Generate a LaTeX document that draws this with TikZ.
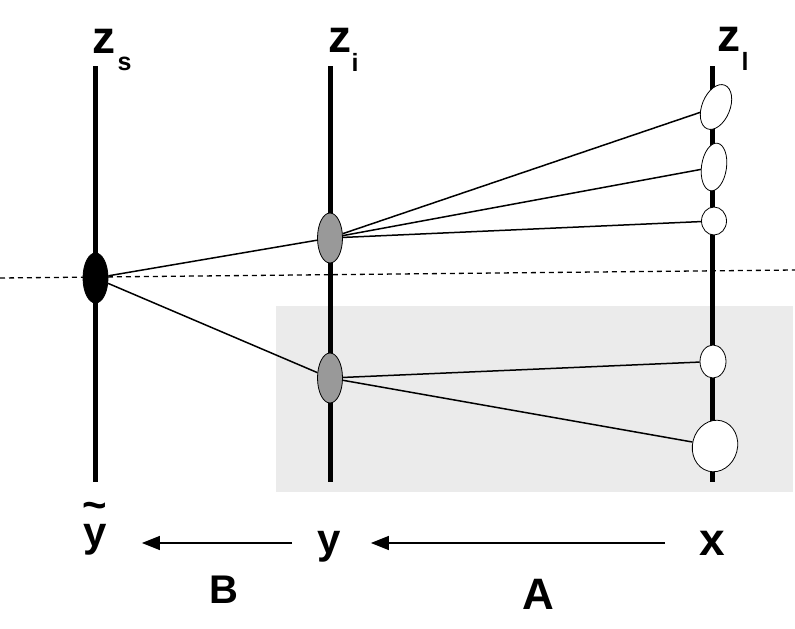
\documentclass[tikz,border=0pt]{standalone}
\usepackage{fontspec}
\setmainfont{Liberation Sans}
\usetikzlibrary{shapes.geometric,arrows.meta}
\newcommand{\bigtilde}[1]{\ooalign{#1\cr\hidewidth\raisebox{0.64em}{\char"7E}\hidewidth\cr}}
\begin{document}
\begin{tikzpicture}[x=1pt,y=-1pt,
 axis/.style={line width=5pt},
 link/.style={line width=1.5pt},
 blob/.style={ellipse,draw,line width=0.8pt,inner sep=0pt},
 lab/.style={font=\bfseries\fontsize{46}{50}\selectfont, inner sep=0pt},
 sub/.style={font=\bfseries\fontsize{25}{28}\selectfont, inner sep=0pt},
 big/.style={font=\bfseries\fontsize{42}{46}\selectfont, inner sep=0pt},
 arr/.style={line width=1.3pt,-{Triangle[length=18pt,width=14pt]}}]
\useasboundingbox (0,0) rectangle (795,629);
\fill[black!8] (276,306) rectangle (793,492);
\coordinate (dl) at (0,278); \coordinate (dr) at (795,270);
\draw[line width=1.3pt, dash pattern=on 5pt off 4pt] (dl) -- (dr);
% axes
\coordinate (s1) at (95,66); \coordinate (s2) at (95,482);
\coordinate (i1) at (330,66); \coordinate (i2) at (330,482);
\coordinate (l1) at (712,66); \coordinate (l2) at (712,482);
\draw[axis] (s1) -- (s2);
\draw[axis] (i1) -- (i2);
\draw[axis] (l1) -- (l2);
% labels
\node[lab] (zs) at (104,41) {z};
\node[sub] (zss) at (124.5,64) {s};
\node[lab] (zi) at (339.5,40) {z};
\node[sub] (zis) at (355,62) {i};
\node[lab] (zl) at (729,39) {z};
\node[sub] (zls) at (745,61) {l};
% blobs
\node[blob,fill=black,minimum width=25pt,minimum height=50pt] (S) at (95.5,278) {};
\node[blob,fill=black!40,minimum width=25pt,minimum height=50pt] (I1) at (330,238) {};
\node[blob,fill=black!40,minimum width=25pt,minimum height=50pt] (I2) at (330,378) {};
\node[blob,fill=white,minimum width=28pt,minimum height=47pt,rotate=-22] (L1) at (716,107) {};
\node[blob,fill=white,minimum width=25pt,minimum height=48pt,rotate=-8] (L2) at (714,167) {};
\node[blob,fill=white,minimum width=25pt,minimum height=28pt] (L3) at (714,221) {};
\node[blob,fill=white,minimum width=26pt,minimum height=33pt] (L4) at (713,361.5) {};
\node[blob,fill=white,minimum width=45pt,minimum height=52pt,rotate=-15] (L5) at (715,446) {};
% links
\draw[link] (S) -- (I1);
\draw[link] (S) -- (I2);
\draw[link] (I1) -- (L1);
\draw[link] (I1) -- (L2);
\draw[link] (I1) -- (L3);
\draw[link] (I2) -- (L4);
\draw[link] (I2) -- (L5);
% bottom
\node[big] (yt) at (95,535) {\bigtilde{y}};
\node[big] (y) at (329,547) {y};
\node[lab] (x) at (712,543) {x};
\draw[arr,shorten <=25pt,shorten >=35pt] (y.west |- x.center) -- (yt.east |- x.center);
\draw[arr,shorten <=34pt,shorten >=30pt] (x.west) -- (y.east |- x.center);
\node[font=\bfseries\fontsize{40}{44}\selectfont,inner sep=0pt] (B) at (224,590) {B};
\node[font=\bfseries\fontsize{44}{48}\selectfont,inner sep=0pt] (A) at (538,594) {A};
\end{tikzpicture}
\end{document}
